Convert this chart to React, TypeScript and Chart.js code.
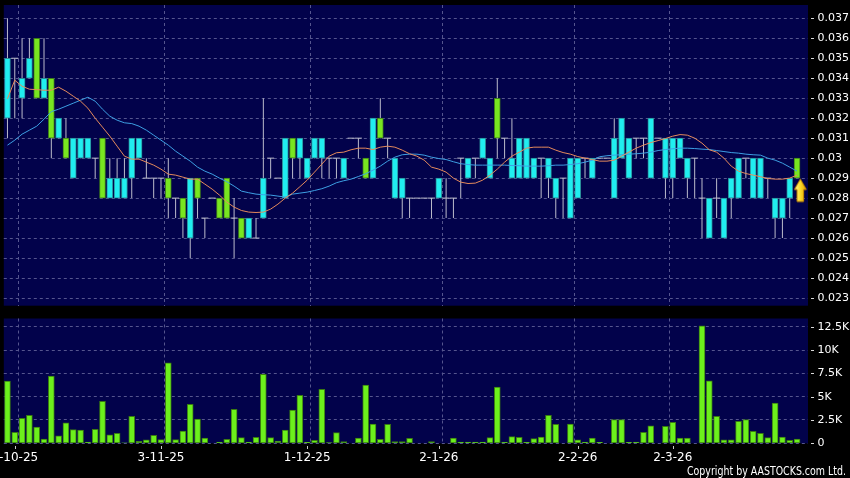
import React, { useEffect, useRef } from "react";
import { Chart, registerables } from "chart.js";

Chart.register(...registerables);

// ---------------- data ----------------
const slotCount = 110; // 109 sessions + one empty slot at the right edge
const dateTickIndex = [1, 21, 41, 59, 78, 91];
const dateTickText = ["2-10-25", "3-11-25", "1-12-25", "2-1-26", "2-2-26", "2-3-26"];
const dateGridIndex = [2, 22, 42, 60, 78, 91];

const openP = [
  0.035, 0.035, 0.034, 0.035, 0.033, 0.034, 0.031, 0.032, 0.030, 0.031,
  0.031, 0.031, 0.030, 0.028, 0.029, 0.029, 0.029, 0.031, 0.031, 0.029,
  0.029, 0.029, 0.028, 0.028, 0.027, 0.029, 0.028, 0.027, 0.028, 0.027,
  0.027, 0.027, 0.026, 0.027, 0.026, 0.029, 0.030, 0.029, 0.031, 0.030,
  0.031, 0.030, 0.031, 0.031, 0.030, 0.030, 0.030, 0.031, 0.031, 0.029,
  0.032, 0.031, 0.031, 0.030, 0.029, 0.028, 0.028, 0.028, 0.028, 0.029,
  0.028, 0.028, 0.030, 0.030, 0.030, 0.031, 0.030, 0.031, 0.031, 0.030,
  0.031, 0.031, 0.030, 0.030, 0.030, 0.029, 0.029, 0.030, 0.030, 0.030,
  0.030, 0.030, 0.030, 0.031, 0.032, 0.031, 0.031, 0.031, 0.032, 0.031,
  0.031, 0.031, 0.031, 0.030, 0.030, 0.028, 0.028, 0.028, 0.028, 0.029,
  0.030, 0.030, 0.030, 0.030, 0.029, 0.028, 0.028, 0.029, 0.029,
];
const highP = [
  0.037, 0.035, 0.036, 0.036, 0.036, 0.036, 0.034, 0.032, 0.032, 0.031,
  0.031, 0.031, 0.030, 0.031, 0.030, 0.030, 0.030, 0.031, 0.031, 0.030,
  0.029, 0.029, 0.030, 0.028, 0.028, 0.029, 0.029, 0.027, 0.028, 0.028,
  0.029, 0.028, 0.027, 0.027, 0.027, 0.033, 0.030, 0.029, 0.031, 0.031,
  0.031, 0.030, 0.031, 0.031, 0.030, 0.030, 0.030, 0.031, 0.031, 0.030,
  0.032, 0.033, 0.031, 0.030, 0.029, 0.028, 0.028, 0.028, 0.028, 0.029,
  0.029, 0.028, 0.030, 0.030, 0.030, 0.031, 0.030, 0.034, 0.031, 0.032,
  0.031, 0.031, 0.030, 0.030, 0.030, 0.029, 0.029, 0.030, 0.030, 0.030,
  0.030, 0.030, 0.030, 0.032, 0.032, 0.031, 0.031, 0.031, 0.032, 0.031,
  0.031, 0.031, 0.031, 0.030, 0.030, 0.029, 0.028, 0.029, 0.028, 0.029,
  0.030, 0.030, 0.030, 0.030, 0.029, 0.028, 0.028, 0.029, 0.030,
];
const lowP = [
  0.031, 0.032, 0.032, 0.034, 0.033, 0.033, 0.030, 0.031, 0.030, 0.029,
  0.030, 0.030, 0.029, 0.028, 0.028, 0.028, 0.028, 0.028, 0.030, 0.029,
  0.028, 0.028, 0.027, 0.027, 0.026, 0.025, 0.027, 0.026, 0.028, 0.027,
  0.027, 0.025, 0.026, 0.026, 0.026, 0.027, 0.029, 0.029, 0.028, 0.029,
  0.029, 0.029, 0.030, 0.029, 0.029, 0.029, 0.029, 0.031, 0.030, 0.029,
  0.029, 0.031, 0.030, 0.028, 0.027, 0.027, 0.028, 0.028, 0.027, 0.028,
  0.027, 0.027, 0.028, 0.029, 0.029, 0.030, 0.029, 0.030, 0.030, 0.029,
  0.029, 0.029, 0.029, 0.028, 0.028, 0.027, 0.027, 0.027, 0.028, 0.029,
  0.029, 0.030, 0.030, 0.028, 0.030, 0.029, 0.030, 0.030, 0.029, 0.031,
  0.028, 0.028, 0.030, 0.028, 0.028, 0.026, 0.026, 0.027, 0.026, 0.027,
  0.028, 0.029, 0.028, 0.028, 0.028, 0.026, 0.026, 0.027, 0.029,
];
const closeP = [
  0.032, 0.035, 0.033, 0.034, 0.036, 0.033, 0.034, 0.031, 0.031, 0.029,
  0.030, 0.030, 0.030, 0.031, 0.028, 0.028, 0.028, 0.029, 0.030, 0.029,
  0.029, 0.029, 0.029, 0.028, 0.028, 0.026, 0.029, 0.027, 0.028, 0.028,
  0.029, 0.027, 0.027, 0.026, 0.026, 0.027, 0.030, 0.029, 0.028, 0.031,
  0.030, 0.029, 0.030, 0.030, 0.030, 0.030, 0.029, 0.031, 0.031, 0.030,
  0.029, 0.032, 0.031, 0.028, 0.028, 0.028, 0.028, 0.028, 0.028, 0.028,
  0.028, 0.028, 0.030, 0.029, 0.030, 0.030, 0.029, 0.033, 0.031, 0.029,
  0.029, 0.029, 0.029, 0.030, 0.029, 0.028, 0.029, 0.027, 0.028, 0.030,
  0.029, 0.030, 0.030, 0.028, 0.030, 0.029, 0.031, 0.031, 0.029, 0.031,
  0.029, 0.029, 0.030, 0.029, 0.030, 0.028, 0.026, 0.028, 0.026, 0.028,
  0.028, 0.030, 0.028, 0.028, 0.029, 0.027, 0.027, 0.028, 0.030,
];
const maFast = [
  0.03297, 0.0339, 0.0336, 0.03345, 0.03343, 0.0334, 0.0334, 0.03355, 0.03335, 0.0331,
  0.03285, 0.0325, 0.032, 0.03155, 0.0311, 0.0306, 0.0301, 0.02995, 0.02995, 0.0298,
  0.02965, 0.02945, 0.0292, 0.02915, 0.02905, 0.02895, 0.02895, 0.0287, 0.02845, 0.02815,
  0.0278, 0.02755, 0.02738, 0.0273, 0.02728, 0.0273, 0.02745, 0.0277, 0.028, 0.02825,
  0.02857, 0.0289, 0.0293, 0.0297, 0.0301, 0.03027, 0.0303, 0.03042, 0.0305, 0.0305,
  0.03043, 0.03055, 0.0306, 0.03055, 0.0304, 0.03022, 0.0301, 0.0299, 0.02955, 0.02945,
  0.0293, 0.029, 0.0288, 0.02873, 0.02875, 0.0289, 0.02915, 0.02945, 0.0298, 0.0301,
  0.0303, 0.0305, 0.03055, 0.03055, 0.03055, 0.0304, 0.03028, 0.0302, 0.03008, 0.03,
  0.02993, 0.02985, 0.02985, 0.0299, 0.0301, 0.0303, 0.0305, 0.03065, 0.03078, 0.03088,
  0.03098, 0.0311, 0.03118, 0.03115, 0.031, 0.03075, 0.03042, 0.0303, 0.03, 0.0296,
  0.02935, 0.02923, 0.02915, 0.02907, 0.02898, 0.02895, 0.02895, 0.029, 0.02915,
];
const maSlow = [
  0.03065, 0.0309, 0.0312, 0.0314, 0.0316, 0.03195, 0.03233, 0.03245, 0.0326, 0.03275,
  0.0329, 0.03305, 0.03285, 0.03245, 0.0321, 0.0319, 0.03177, 0.03173, 0.0316, 0.0314,
  0.03115, 0.0309, 0.03065, 0.03035, 0.0301, 0.02985, 0.02955, 0.02935, 0.0292, 0.029,
  0.02882, 0.0286, 0.02835, 0.02827, 0.0282, 0.02817, 0.02815, 0.0281, 0.02805, 0.0282,
  0.02825, 0.0283, 0.02838, 0.02847, 0.0286, 0.02877, 0.02887, 0.02895, 0.02908, 0.02922,
  0.0294, 0.0296, 0.02985, 0.03005, 0.03017, 0.0302, 0.0302, 0.03015, 0.03005, 0.02998,
  0.02993, 0.02982, 0.02972, 0.02968, 0.02965, 0.02965, 0.02965, 0.02965, 0.02965, 0.02963,
  0.02962, 0.0296, 0.0296, 0.0296, 0.02962, 0.02965, 0.02965, 0.02968, 0.02972, 0.0298,
  0.0299, 0.03007, 0.03012, 0.03015, 0.03017, 0.0302, 0.03022, 0.03025, 0.0303, 0.03038,
  0.03043, 0.03047, 0.0305, 0.0305, 0.03048, 0.03045, 0.03043, 0.03038, 0.03033, 0.03028,
  0.03025, 0.0302, 0.03017, 0.03015, 0.03, 0.0299, 0.02975, 0.02955, 0.02935,
];
const volume = [
  6680, 1180, 2680, 3000, 1750, 460, 7200, 790, 2200, 1460,
  1430, 140, 1500, 4500, 900, 1070, 50, 2900, 200, 360,
  860, 390, 8640, 390, 1300, 4180, 2600, 570, 0, 140,
  430, 3640, 600, 140, 640, 7400, 600, 250, 1430, 3570,
  5140, 100, 320, 5780, 70, 1140, 180, 0, 570, 6250,
  2070, 430, 2030, 180, 180, 540, 0, 0, 180, 0,
  0, 570, 140, 140, 140, 140, 600, 6030, 140, 710,
  640, 100, 500, 680, 3000, 2030, 0, 2070, 360, 140,
  570, 100, 0, 2540, 2540, 100, 140, 1180, 1860, 0,
  1820, 2250, 570, 570, 0, 12600, 6700, 2900, 360, 360,
  2360, 2540, 1290, 1070, 600, 4300, 680, 320, 460,
];
const priceTicks = [0.023, 0.024, 0.025, 0.026, 0.027, 0.028, 0.029, 0.03, 0.031, 0.032, 0.033, 0.034, 0.035, 0.036, 0.037];
const volumeTicks = [0, 2500, 5000, 7500, 10000, 12500];
const volumeTickText = ["0", "2.5K", "5K", "7.5K", "10K", "12.5K"];
const signalIndex = 108;
const signalLevel = 0.02838;
const copyrightText = "Copyright by AASTOCKS.com Ltd.";

// ---------------- styles ----------------
const FONT = "'DejaVu Sans', sans-serif";
const NAVY = "#02024b";
const GRID = "#55558e";
const CYAN = "#20eef0";
const CYAN_EDGE = "#2a8a96";
const GREEN = "#78e620";
const GREEN_EDGE = "#3e7c1c";
const WICK = "#bdbdcc";
const MA_FAST = "#e58a5c";
const MA_SLOW = "#3d9fe3";
const VOL_FILL = "#6cf01c";
const VOL_EDGE = "#3a7a12";
const TEXT = "#ffffff";

const labels = Array.from({ length: slotCount }, (_, i) => {
  const k = dateTickIndex.indexOf(i);
  return k >= 0 ? dateTickText[k] : "";
});

const noScalePadding = (s: any) => {
  s.paddingTop = 0;
  s.paddingBottom = 0;
  s.paddingLeft = 0;
  s.paddingRight = 0;
};

const plotBackground = {
  id: "plotBackground",
  beforeDraw(chart: any) {
    const { ctx, chartArea: a } = chart;
    ctx.save();
    ctx.fillStyle = NAVY;
    ctx.fillRect(a.left, a.top, a.right - a.left, a.bottom - a.top);
    ctx.restore();
  },
};

const yDashes = {
  id: "yDashes",
  afterDraw(chart: any) {
    const { ctx, chartArea: a, scales } = chart;
    const y = scales.y;
    ctx.save();
    ctx.fillStyle = "#d8d8d8";
    y.ticks.forEach((t: any) => {
      const py = Math.round(y.getPixelForValue(t.value));
      ctx.fillRect(Math.round(a.right) + 3, py, 3, 1);
    });
    ctx.restore();
  },
};

const xTickMarks = {
  id: "xTickMarks",
  afterDraw(chart: any) {
    const { ctx, chartArea: a, scales } = chart;
    const x = scales.x;
    ctx.save();
    ctx.fillStyle = "#c8c8c8";
    dateTickIndex.forEach((i) => {
      const px = Math.round(x.getPixelForValue(i));
      ctx.fillRect(px, Math.round(a.bottom) + 3, 1, 3);
    });
    ctx.restore();
  },
};

const copyright = {
  id: "copyright",
  afterDraw(chart: any) {
    const { ctx } = chart;
    ctx.save();
    ctx.font = "12px " + FONT;
    const w = ctx.measureText(copyrightText).width;
    ctx.translate(846, 165.3);
    ctx.scale(159 / w, 1);
    ctx.textAlign = "right";
    ctx.textBaseline = "alphabetic";
    ctx.fillStyle = TEXT;
    ctx.fillText(copyrightText, 0, 0);
    ctx.restore();
  },
};

function makeArrow(): HTMLCanvasElement {
  const c = document.createElement("canvas");
  c.width = 30;
  c.height = 26;
  const g = c.getContext("2d")!;
  const cx = 18.3;
  const top = 1.5;
  const headBase = 12;
  const bottom = 24;
  g.beginPath();
  g.moveTo(cx, top);
  g.lineTo(cx + 6, headBase);
  g.lineTo(cx + 3.3, headBase);
  g.lineTo(cx + 3.3, bottom);
  g.lineTo(cx - 3.3, bottom);
  g.lineTo(cx - 3.3, headBase);
  g.lineTo(cx - 6, headBase);
  g.closePath();
  const grad = g.createLinearGradient(cx - 6, 0, cx + 6, 0);
  grad.addColorStop(0, "#fff7a8");
  grad.addColorStop(0.45, "#ffe030");
  grad.addColorStop(1, "#e0a000");
  g.fillStyle = grad;
  g.fill();
  g.strokeStyle = "#c08400";
  g.lineWidth = 1;
  g.stroke();
  return c;
}

function xScale(showLabels: boolean) {
  return {
    type: "category",
    offset: true,
    grid: {
      offset: true,
      drawTicks: false,
      lineWidth: 1,
      color: (c: any) => (dateGridIndex.includes(c.index) ? GRID : "rgba(0,0,0,0)"),
    },
    border: { display: false, dash: [3, 3] },
    ticks: {
      display: showLabels,
      autoSkip: false,
      maxRotation: 0,
      minRotation: 0,
      padding: 7.5,
      color: TEXT,
      font: { size: 12, family: FONT },
      callback: (_v: any, i: number) => labels[i],
    },
    afterFit: (s: any) => {
      s.height = showLabels ? 34.7 : 0;
      noScalePadding(s);
    },
  };
}

function yScale(min: number, max: number, ticks: number[], fmt: (v: number, i: number) => string) {
  return {
    type: "linear",
    position: "right",
    min,
    max,
    afterBuildTicks: (s: any) => {
      s.ticks = ticks.map((v) => ({ value: v }));
    },
    afterFit: (s: any) => {
      s.width = 42;
      noScalePadding(s);
    },
    grid: { color: GRID, drawTicks: false, lineWidth: 1 },
    border: { display: false, dash: [3, 3] },
    ticks: {
      color: TEXT,
      padding: 9.5,
      font: { size: 11, family: FONT },
      callback: (v: any, i: number) => fmt(Number(v), i),
    },
  };
}

export default function App() {
  const priceRef = useRef<HTMLCanvasElement>(null);
  const volRef = useRef<HTMLCanvasElement>(null);

  useEffect(() => {
    const arrow = makeArrow();
    const n = openP.length;
    const isUp = (i: number) => closeP[i] > openP[i];
    const bodyData = openP.map((o, i) => (o === closeP[i] ? null : [o, closeP[i]]));
    const wickData = lowP.map((l, i) => [l, highP[i]]);
    const dojiData = openP.map((o, i) => (o === closeP[i] ? closeP[i] : null));
    const signalData = Array.from({ length: n }, (_, i) => (i === signalIndex ? signalLevel : null));

    const price = new Chart(priceRef.current!, {
      type: "bar",
      data: {
        labels,
        datasets: [
          { type: "line", data: signalData as any, showLine: false, pointStyle: arrow as any, pointRadius: 5, order: 0 },
          { type: "line", data: maFast, borderColor: MA_FAST, borderWidth: 1, pointRadius: 0, tension: 0, order: 1 },
          { type: "line", data: maSlow, borderColor: MA_SLOW, borderWidth: 1, pointRadius: 0, tension: 0, order: 2 },
          {
            type: "line",
            data: dojiData as any,
            showLine: false,
            pointStyle: "line",
            pointRadius: 3.5,
            pointBorderWidth: 1,
            pointBorderColor: WICK,
            borderColor: WICK,
            order: 3,
          },
          {
            type: "bar",
            data: bodyData as any,
            backgroundColor: openP.map((_, i) => (isUp(i) ? GREEN : CYAN)),
            borderColor: openP.map((_, i) => (isUp(i) ? GREEN_EDGE : CYAN_EDGE)),
            borderWidth: 1,
            borderSkipped: false,
            barThickness: 6,
            grouped: false,
            order: 4,
          },
          {
            type: "bar",
            data: wickData as any,
            backgroundColor: WICK,
            borderWidth: 0,
            barThickness: 1,
            inflateAmount: 0,
            grouped: false,
            order: 5,
          },
        ],
      },
      options: {
        responsive: false,
        animation: false,
        devicePixelRatio: 1,
        events: [],
        layout: { autoPadding: false, padding: { left: 3.8, right: 0, top: 5, bottom: 4.3 } },
        plugins: { legend: { display: false }, tooltip: { enabled: false } },
        scales: {
          x: xScale(false) as any,
          y: yScale(0.022615, 0.037665, priceTicks, (v) => String(Number(v.toFixed(3)))) as any,
        },
      },
      plugins: [plotBackground, yDashes],
    } as any);

    const vol = new Chart(volRef.current!, {
      type: "bar",
      data: {
        labels,
        datasets: [
          {
            data: volume,
            backgroundColor: VOL_FILL,
            borderColor: VOL_EDGE,
            borderWidth: 1,
            borderSkipped: false,
            barThickness: 6,
          },
        ],
      },
      options: {
        responsive: false,
        animation: false,
        devicePixelRatio: 1,
        events: [],
        layout: { autoPadding: false, padding: { left: 3.8, right: 0, top: 8.5, bottom: 0 } },
        plugins: { legend: { display: false }, tooltip: { enabled: false } },
        scales: {
          x: xScale(true) as any,
          y: yScale(0, 13379, volumeTicks, (_v, i) => volumeTickText[i]) as any,
        },
      },
      plugins: [plotBackground, yDashes, xTickMarks, copyright],
    } as any);

    return () => {
      price.destroy();
      vol.destroy();
    };
  }, []);

  return (
    <div style={{ position: "fixed", left: 0, top: 0, width: 850, height: 478, background: "#000", overflow: "hidden" }}>
      <canvas ref={priceRef} width={850} height={310} style={{ position: "absolute", left: 0, top: 0 }} />
      <canvas ref={volRef} width={850} height={168} style={{ position: "absolute", left: 0, top: 310 }} />
    </div>
  );
}
